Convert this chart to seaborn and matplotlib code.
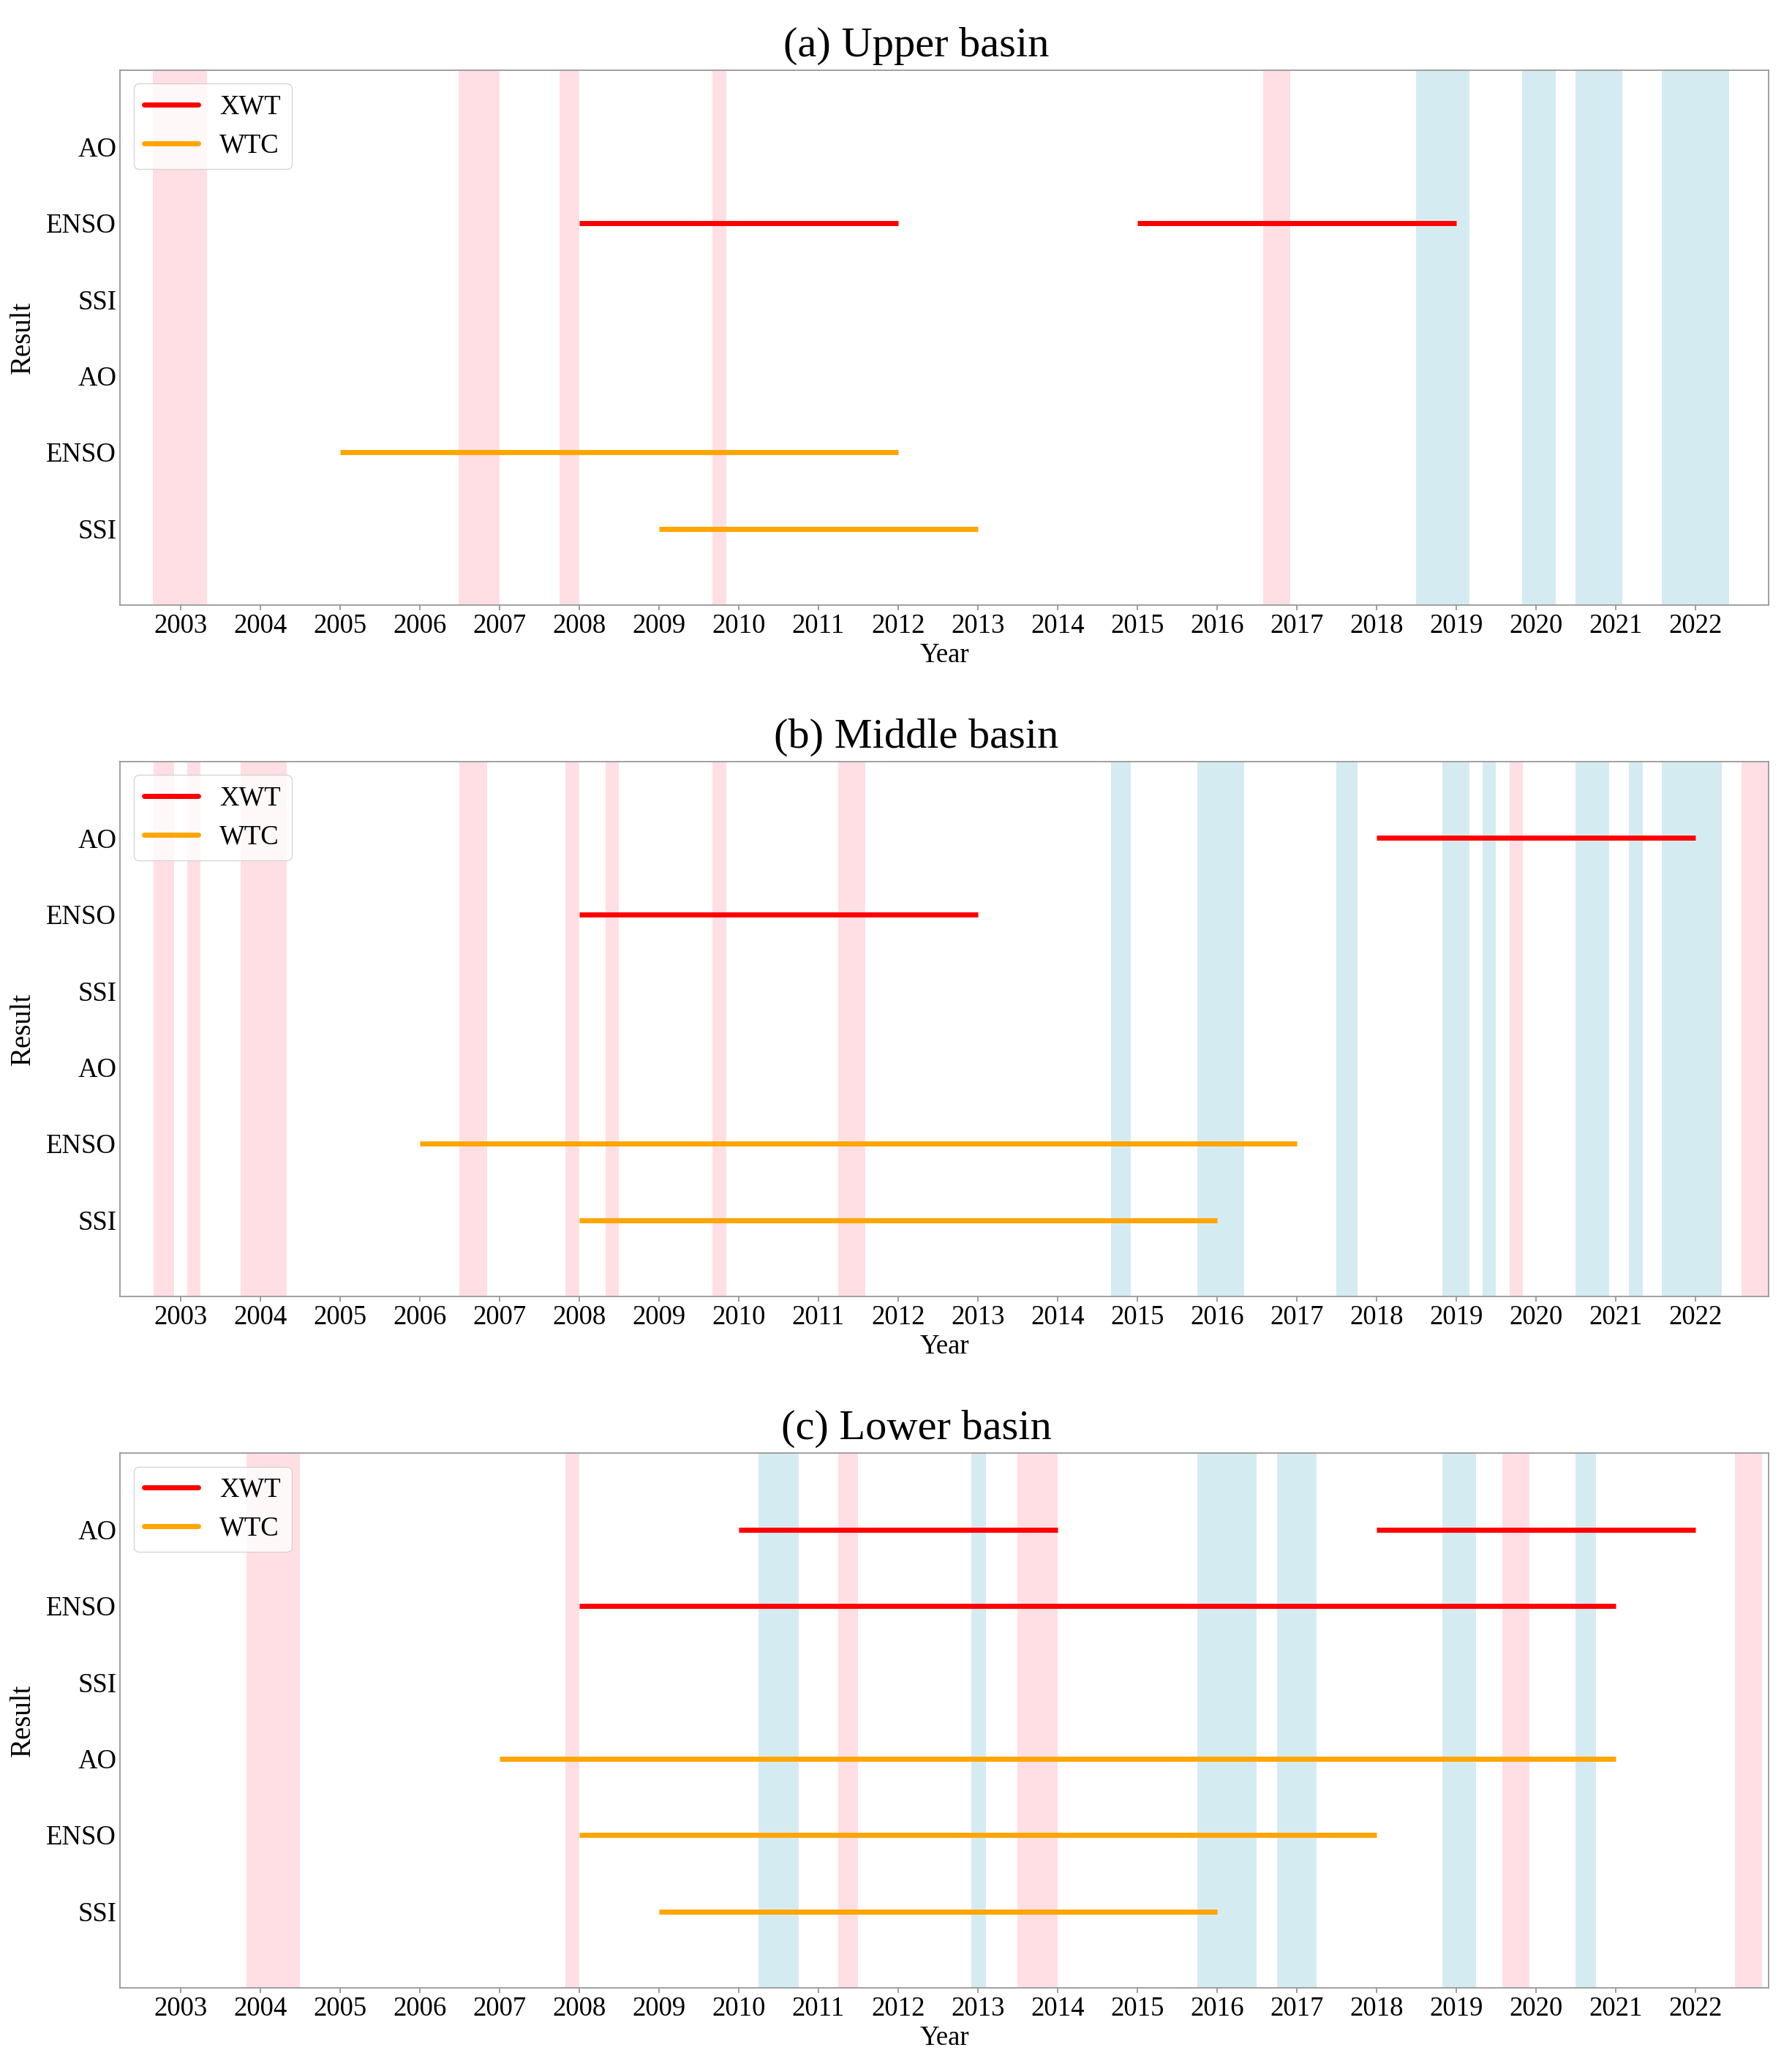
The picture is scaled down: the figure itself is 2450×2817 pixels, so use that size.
import pandas as pd
import seaborn as sns
import matplotlib.pyplot as plt
from matplotlib.lines import Line2D

# rows from top to bottom: XWT (AO, ENSO, SSI) then WTC (AO, ENSO, SSI)
row_labels = ['AO', 'ENSO', 'SSI', 'AO', 'ENSO', 'SSI']
years = list(range(2003, 2023))

titles = ['(a) Upper basin', '(b) Middle basin', '(c) Lower basin']

# significant periods: (method, row index, start, end)
upper_segments = [
    ('XWT', 1, 2008, 2012), ('XWT', 1, 2015, 2019),
    ('WTC', 4, 2005, 2012), ('WTC', 5, 2009, 2013),
]
middle_segments = [
    ('XWT', 0, 2018, 2022), ('XWT', 1, 2008, 2013),
    ('WTC', 4, 2006, 2017), ('WTC', 5, 2008, 2016),
]
lower_segments = [
    ('XWT', 0, 2010, 2014), ('XWT', 0, 2018, 2022), ('XWT', 1, 2008, 2021),
    ('WTC', 3, 2007, 2021), ('WTC', 4, 2008, 2018), ('WTC', 5, 2009, 2016),
]

# shaded periods (pink / light blue)
upper_pink = [(2002.65, 2003.33), (2006.49, 2007.0), (2007.75, 2008.0),
              (2009.67, 2009.84), (2016.58, 2016.92)]
upper_blue = [(2018.5, 2019.17), (2019.83, 2020.25), (2020.5, 2021.08),
              (2021.58, 2022.42)]

middle_pink = [(2002.66, 2002.92), (2003.08, 2003.25), (2003.75, 2004.33),
               (2006.5, 2006.84), (2007.83, 2008.0), (2008.33, 2008.5),
               (2009.67, 2009.84), (2011.25, 2011.59), (2019.67, 2019.84),
               (2022.58, 2023.0)]
middle_blue = [(2014.67, 2014.92), (2015.75, 2016.34), (2017.5, 2017.76),
               (2018.83, 2019.17), (2019.33, 2019.5), (2020.5, 2020.92),
               (2021.17, 2021.34), (2021.58, 2022.33)]

lower_pink = [(2003.83, 2004.5), (2007.83, 2008.0), (2011.25, 2011.5),
              (2013.5, 2014.0), (2019.58, 2019.92), (2022.5, 2022.84)]
lower_blue = [(2010.25, 2010.75), (2012.92, 2013.1), (2015.75, 2016.5),
              (2016.75, 2017.25), (2018.83, 2019.25), (2020.5, 2020.75)]

panels = [
    (upper_segments, upper_pink, upper_blue),
    (middle_segments, middle_pink, middle_blue),
    (lower_segments, lower_pink, lower_blue),
]

palette = {'XWT': 'red', 'WTC': 'orange'}

sns.set_style('white')
plt.rcParams['font.family'] = ['Liberation Serif', 'DejaVu Serif']
plt.rcParams['text.color'] = 'black'
plt.rcParams['axes.labelcolor'] = 'black'

fig, axes = plt.subplots(3, 1, figsize=(24.5, 28.17), dpi=100)
fig.subplots_adjust(left=0.067, right=0.987, top=0.9659, bottom=0.0355, hspace=0.293)

for ax, title, (segments, pink, blue) in zip(axes, titles, panels):
    for s, e in pink:
        ax.axvspan(s, e, color='pink', alpha=0.5, lw=0)
    for s, e in blue:
        ax.axvspan(s, e, color='lightblue', alpha=0.5, lw=0)

    rows = []
    for i, (method, r, s, e) in enumerate(segments):
        ypos = len(row_labels) - 1 - r
        rows.append({'seg': i, 'method': method, 'year': s, 'pos': ypos})
        rows.append({'seg': i, 'method': method, 'year': e, 'pos': ypos})
    df = pd.DataFrame(rows)
    sns.lineplot(data=df, x='year', y='pos', hue='method', units='seg',
                 estimator=None, palette=palette, lw=5, legend=False, ax=ax,
                 solid_capstyle='butt')

    ax.set_xlim(2002.24, 2022.92)
    ax.set_ylim(-1, len(row_labels))
    ax.set_xticks(years)
    ax.set_yticks(range(len(row_labels) - 1, -1, -1))
    ax.set_yticklabels(row_labels)
    ax.tick_params(axis='x', labelsize=26.5, length=5, color='0.55', width=1.2,
                   bottom=True, labelcolor='black')
    ax.tick_params(axis='y', labelsize=26.5, length=0, labelcolor='black')
    for sp in ax.spines.values():
        sp.set_color('0.6')
        sp.set_linewidth(1.3)

    ax.set_title(title, fontsize=42, pad=14, x=0.483, color='black')
    ax.set_xlabel('Year', fontsize=26.5, labelpad=4)
    ax.set_ylabel('Result', fontsize=28, labelpad=10)

    handles = [Line2D([], [], color='red', lw=5, label='XWT'),
               Line2D([], [], color='orange', lw=5, label='WTC')]
    leg = ax.legend(handles=handles, loc='upper left', fontsize=26.5, frameon=True)
    for t in leg.get_texts():
        t.set_color('black')

plt.savefig('out.png', dpi=100)
